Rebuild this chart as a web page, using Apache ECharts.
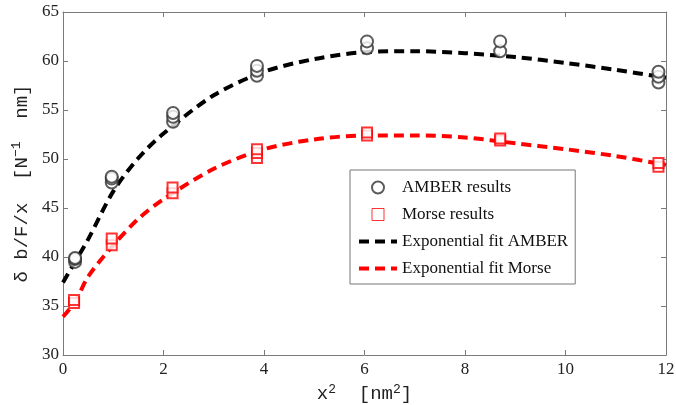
<!DOCTYPE html>
<html>
<head>
<meta charset="utf-8">
<script src="https://cdn.jsdelivr.net/npm/echarts@6/dist/echarts.min.js"></script>
<style>
  html, body { margin: 0; padding: 0; background: #fff; }
  #chart { width: 676px; height: 405px; }
</style>
</head>
<body>
<div id="chart"></div>
<script>
// measured points
var amberX = [0.24, 0.24, 0.24, 0.97, 0.97, 0.97, 2.19, 2.19, 2.19, 3.86, 3.86, 3.86, 6.05, 6.05, 8.7, 8.7, 11.85, 11.85, 11.85];
var amberY = [39.5, 39.8, 39.9, 47.6, 48.0, 48.2, 53.8, 54.3, 54.7, 58.5, 59.0, 59.5, 61.3, 62.0, 61.0, 62.0, 57.8, 58.4, 58.9];
var morseX = [0.22, 0.22, 0.97, 0.97, 2.18, 2.18, 3.86, 3.86, 3.86, 6.05, 6.05, 8.7, 8.7, 11.85, 11.85];
var morseY = [35.3, 35.6, 41.2, 41.9, 46.5, 47.1, 50.1, 50.6, 51.0, 52.4, 52.7, 51.9, 52.1, 49.2, 49.6];

// fitted curves
var fitX      = [0, 0.25, 0.5, 1, 1.5, 2, 3, 4, 5, 6, 7, 8, 9, 10, 11, 12];
var fitAmber  = [37.4, 39.6, 41.8, 46.7, 50.1, 52.6, 56.5, 58.9, 60.2, 60.9, 61.0, 60.8, 60.4, 59.8, 59.1, 58.3];
var fitMorse  = [33.9, 35.5, 38.0, 41.2, 43.9, 45.9, 49.0, 51.0, 52.0, 52.4, 52.4, 52.2, 51.6, 51.0, 50.3, 49.4];

var legendNames = ['AMBER results', 'Morse results', 'Exponential fit AMBER', 'Exponential fit Morse'];

function pairs(xs, ys) {
  var out = [];
  for (var i = 0; i < xs.length; i++) out.push([xs[i], ys[i]]);
  return out;
}

var chart = echarts.init(document.getElementById('chart'));
var axisCol = '#7a7a7a';
var serif = '"Liberation Serif", "Times New Roman", serif';
var mono = '"Liberation Mono", "DejaVu Sans Mono", monospace';
var dash = [10, 6];

function xAx(pos, show) {
  return {
    type: 'value', position: pos, min: 0, max: 12, interval: 2,
    axisLine: { show: true, onZero: false, lineStyle: { color: axisCol, width: 1 } },
    axisTick: { show: true, inside: true, length: 5, lineStyle: { color: axisCol } },
    axisLabel: { show: show, color: '#222', fontFamily: serif, fontSize: 17, margin: 6 },
    splitLine: { show: false }
  };
}
function yAx(pos, show) {
  return {
    type: 'value', position: pos, min: 30, max: 65, interval: 5,
    axisLine: { show: true, onZero: false, lineStyle: { color: axisCol, width: 1 } },
    axisTick: { show: true, inside: true, length: 5, lineStyle: { color: axisCol } },
    axisLabel: { show: show, color: '#222', fontFamily: serif, fontSize: 17, margin: 4 },
    splitLine: { show: false }
  };
}

var supStyle = { fontFamily: mono, fontSize: 13, verticalAlign: 'top', padding: [0, 0, 10, 0], color: '#222' };

var xb = xAx('bottom', true);
xb.name = 'x{sup|2}  [nm{sup|2}]';
xb.nameLocation = 'middle';
xb.nameGap = 25;
xb.nameTextStyle = { fontFamily: mono, fontSize: 19, color: '#222', rich: { sup: supStyle } };
var yl = yAx('left', true);
yl.name = 'δ b/F/x  [N{sup|−1}  nm]';
yl.nameLocation = 'middle';
yl.nameGap = 28;
yl.nameTextStyle = { fontFamily: mono, fontSize: 19, color: '#222', rich: { sup: supStyle } };

var option = {
  backgroundColor: '#fff',
  animation: false,
  grid: { left: 63, right: 10, top: 12, bottom: 50, containLabel: false, outerBoundsMode: 'none' },
  xAxis: [xb, xAx('top', false)],
  yAxis: [yl, yAx('right', false)],
  legend: {
    orient: 'vertical', left: 350, top: 170,
    padding: [9, 7, 7, 7],
    borderColor: '#777', borderWidth: 1,
    itemWidth: 38, itemHeight: 12, itemGap: 10,
    textStyle: { fontFamily: serif, fontSize: 17, color: '#111' },
    data: [
      { name: legendNames[0], icon: 'emptyCircle', itemStyle: { color: '#333' } },
      { name: legendNames[1], icon: 'path://M0,0h10v10h-10z',
        itemStyle: { color: '#fff', borderColor: '#f00', borderWidth: 1 } },
      { name: legendNames[2], itemStyle: { color: 'transparent', borderColor: 'transparent', borderWidth: 0 },
        lineStyle: { color: '#000', width: 4, type: dash } },
      { name: legendNames[3], itemStyle: { color: 'transparent', borderColor: 'transparent', borderWidth: 0 },
        lineStyle: { color: '#f00', width: 4, type: dash } }
    ]
  },
  series: [
    {
      name: legendNames[0], type: 'scatter', symbol: 'emptyCircle', symbolSize: 12,
      itemStyle: { color: '#333', borderColor: '#333', borderWidth: 1 },
      data: pairs(amberX, amberY), z: 3
    },
    {
      name: legendNames[1], type: 'scatter', symbol: 'emptyRect', symbolSize: 10,
      itemStyle: { color: '#f00', borderColor: '#f00', borderWidth: 1 },
      data: pairs(morseX, morseY), z: 3
    },
    {
      name: legendNames[2], type: 'line', symbol: 'none', smooth: 0.3,
      lineStyle: { color: '#000', width: 4, type: dash },
      itemStyle: { color: '#000' },
      data: pairs(fitX, fitAmber), z: 2
    },
    {
      name: legendNames[3], type: 'line', symbol: 'none', smooth: 0.3,
      lineStyle: { color: '#f00', width: 4, type: dash },
      itemStyle: { color: '#f00' },
      data: pairs(fitX, fitMorse), z: 2
    }
  ]
};
chart.setOption(option);
</script>
</body>
</html>
